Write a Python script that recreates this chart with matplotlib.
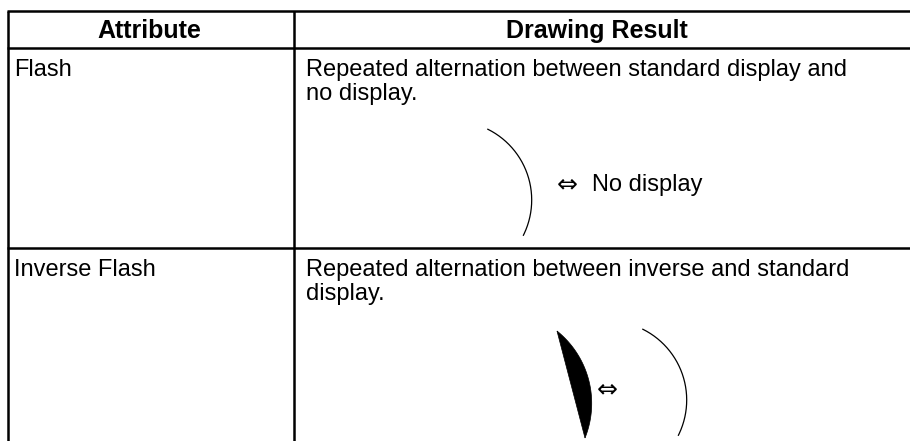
import numpy as np
import matplotlib
matplotlib.use("Agg")
import matplotlib.pyplot as plt
from matplotlib.patches import Polygon

# table content
headers = ["Attribute", "Drawing Result"]
attributes = ["Flash", "Inverse Flash"]
results = [
    ["Repeated alternation between standard display and", "no display."],
    ["Repeated alternation between inverse and standard", "display."],
]
swap_labels = ["\u21d4", "\u21d4"]
swap_tails = ["No display", ""]

# table grid, pixel coords (y down)
col_x = [8, 294]
row_y = [11, 48, 248]
x_right = 910
y_bottom = 441

# illustration arcs: center x, center y, radius, start deg, end deg
arcs = [
    (452.7, 200, 79, -63.6, 26.5),
    (607.7, 400, 79, -63.6, 26.5),
]
# filled segment through three points (top, bulge, bottom)
seg_pts = [(557, 331), (591, 392), (585, 438)]

FONT = "Liberation Sans"
FS = 17


def circle_from_3(p1, p2, p3):
    (x1, y1), (x2, y2), (x3, y3) = p1, p2, p3
    d = 2 * (x1 * (y2 - y3) + x2 * (y3 - y1) + x3 * (y1 - y2))
    ux = ((x1**2 + y1**2) * (y2 - y3) + (x2**2 + y2**2) * (y3 - y1) + (x3**2 + y3**2) * (y1 - y2)) / d
    uy = ((x1**2 + y1**2) * (x3 - x2) + (x2**2 + y2**2) * (x1 - x3) + (x3**2 + y3**2) * (x2 - x1)) / d
    return ux, uy, np.hypot(x1 - ux, y1 - uy)


fig = plt.figure(figsize=(9.10, 4.41), dpi=100)
ax = fig.add_axes([0, 0, 1, 1])
ax.set_xlim(0, 910)
ax.set_ylim(441, 0)
ax.axis("off")

lw = 1.8
for y in row_y:
    ax.plot([col_x[0] - 1, x_right], [y, y], color="black", lw=lw, solid_capstyle="butt")
for x in col_x:
    ax.plot([x, x], [row_y[0], y_bottom], color="black", lw=lw, solid_capstyle="butt")

# header
ax.text(149, 38, headers[0], ha="center", va="baseline",
        fontsize=18, fontweight="bold", family=FONT)
ax.text(597, 38, headers[1], ha="center", va="baseline",
        fontsize=18, fontweight="bold", family=FONT)

# rows
base = [76, 276]
for i in range(2):
    ax.text(14, base[i], attributes[i], ha="left", va="baseline", fontsize=FS, family=FONT)
    for j, line in enumerate(results[i]):
        ax.text(306, base[i] + 24 * j, line, ha="left", va="baseline", fontsize=FS, family=FONT)

# swap labels
ax.text(557, 191, swap_labels[0], ha="left", va="baseline", fontsize=FS + 1,
        family=["DejaVu Sans"])
ax.text(592, 191, swap_tails[0], ha="left", va="baseline", fontsize=FS, family=FONT)
ax.text(597, 396, swap_labels[1], ha="left", va="baseline", fontsize=FS + 1,
        family=["DejaVu Sans"])

# arcs
for cx, cy, r, a0, a1 in arcs:
    t = np.radians(np.linspace(a0, a1, 200))
    ax.plot(cx + r * np.cos(t), cy + r * np.sin(t), color="black", lw=0.9)

# black filled segment
cx, cy, r = circle_from_3(*seg_pts)
a0 = np.arctan2(seg_pts[0][1] - cy, seg_pts[0][0] - cx)
a1 = np.arctan2(seg_pts[2][1] - cy, seg_pts[2][0] - cx)
t = np.linspace(a0, a1, 200)
poly = np.column_stack([cx + r * np.cos(t), cy + r * np.sin(t)])
ax.add_patch(Polygon(poly, closed=True, facecolor="black", edgecolor="black", lw=0.5))

fig.savefig("out.png", dpi=100)
